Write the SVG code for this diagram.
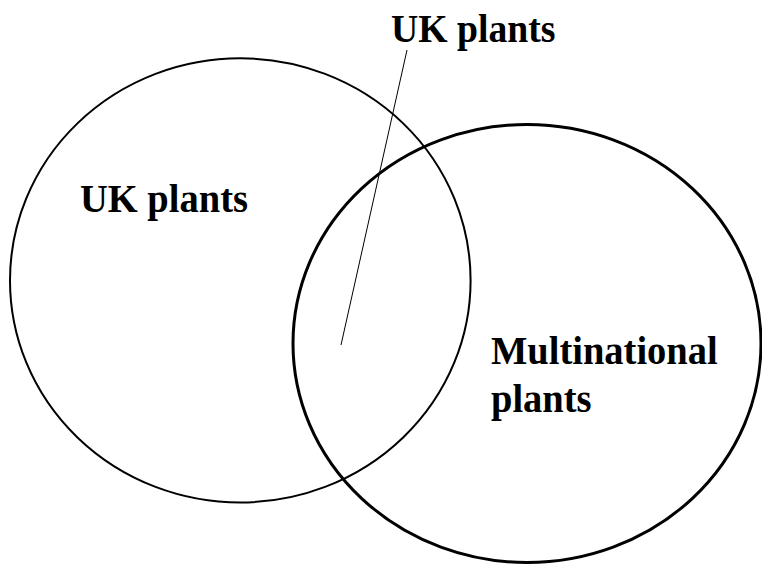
<svg xmlns="http://www.w3.org/2000/svg" width="762" height="565" viewBox="0 0 762 565">
  <style>
    .lbl { font-family: "Liberation Serif", "Times New Roman", serif; font-weight: bold; fill: #000; }
    .set { fill: none; stroke: #000; }
  </style>
  <rect width="762" height="565" fill="#fff"/>
  <g id="uk-set">
    <ellipse class="set" cx="240.3" cy="280.4" rx="230.3" ry="222.1" stroke-width="2"/>
    <text class="lbl" transform="translate(80,211.5) scale(1,1.05)" font-size="38.5">UK plants</text>
  </g>
  <g id="multinational-set">
    <ellipse class="set" cx="527" cy="343.5" rx="234" ry="219" stroke-width="3"/>
    <text class="lbl" transform="translate(491,364) scale(1,1.05)" font-size="38.5">Multinational</text>
    <text class="lbl" transform="translate(491,411.5) scale(1,1.05)" font-size="38.5">plants</text>
  </g>
  <g id="intersection-label">
    <text class="lbl" transform="translate(391,42) scale(1,1.05)" font-size="37.7">UK plants</text>
  </g>
  <g id="connectors">
    <line x1="407" y1="50" x2="341" y2="345" stroke="#000" stroke-width="1"/>
  </g>
</svg>
